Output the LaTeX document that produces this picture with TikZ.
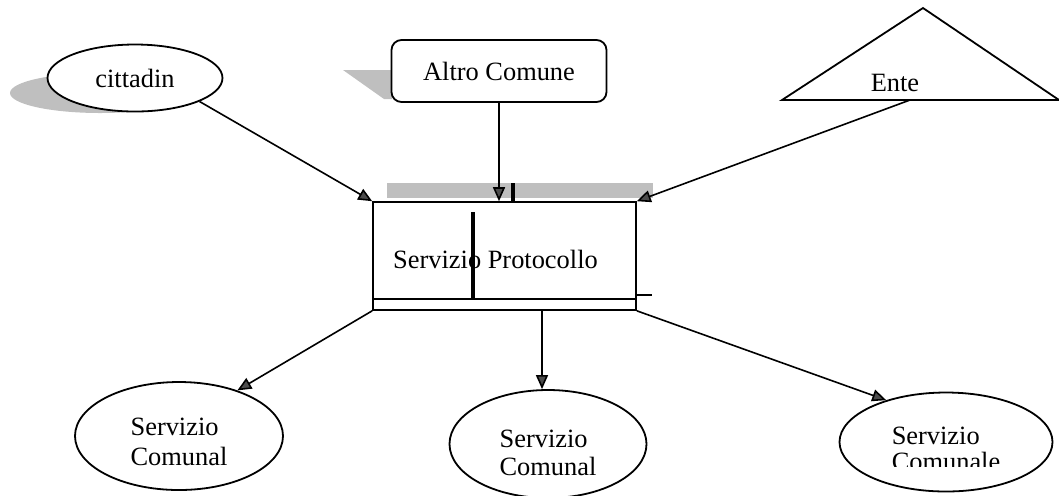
\documentclass[tikz,border=0pt]{standalone}
\usepackage{fontspec}
\setmainfont{Liberation Serif}
\usetikzlibrary{shapes.geometric}
\usetikzlibrary{arrows.meta}

\begin{document}
\begin{tikzpicture}[x=0.5pt,y=-0.5pt,
  font=\fontsize{13.2}{15}\selectfont,
  entity/.style={draw, ellipse, inner sep=0pt, line width=0.9pt},
  link/.style={line width=0.8pt, -{Triangle[length=7pt,width=6pt,fill=black!70]}}]
\useasboundingbox (0,0) rectangle (1059,495);

% shadows
\fill [black!25] (100,93) ellipse (90 and 20);
\fill [black!25] (343,70) -- (392,70) -- (392,99) -- (384,99) -- cycle;
\fill [black!25] (387,183) rectangle (653,198);

\node [entity, fill=white, minimum width=87.5pt, minimum height=33.5pt] (cittadin) at (135,78) {cittadin};
\node [draw, rounded corners=5pt, fill=white, line width=0.9pt, minimum width=107.5pt, minimum height=31pt] (altro) at (499,71) {Altro Comune};

\draw [line width=0.9pt] (782,100) -- (923,8) -- (1059,100) -- cycle;
\node (ente) at (895,83) {Ente};
\coordinate (enteBase) at (910,100);

\node [draw, line width=0.8pt, minimum width=131.5pt, minimum height=54pt] (proto) at (504.5,256) {\rule{0pt}{13pt}\hspace*{-4.5pt}Servizio Protocollo\hspace*{4.5pt}};
\draw [line width=0.8pt] ([yshift=6pt]proto.south west) -- ([yshift=6pt]proto.south east);
\draw [line width=2pt] (473,212) -- (473,298);
\draw [line width=2pt] (513,183) -- (513,202);
\draw [line width=1pt] (636,295) -- (652,295);

\node [entity, minimum width=104pt, minimum height=54pt, align=left] (sc1) at (179,436) {\rule{0pt}{15pt}Servizio\\Comunal};
\node [entity, minimum width=98.5pt, minimum height=54pt, align=left] (sc2) at (548,444) {\rule{0pt}{18pt}Servizio\\[-1pt]Comunal};
\node [entity, minimum width=106.5pt, minimum height=49.5pt, align=left] (sc3) at (946,442) {\rule{0pt}{16pt}Servizio\\[-2pt]Comunale};
\fill [white] (886,467) rectangle (1004,478);

\draw [link] (cittadin.-20) -- (proto.north west);
\draw [link] (altro) -- (altro |- proto.north);
\draw [link] (enteBase) -- (proto.north east);
\draw [link] (proto.south west) -- (sc1.38);
\draw [link] ([xshift=-3pt]sc2.north |- proto.south) -- ([xshift=-3pt]sc2.north);
\draw [link] (proto.south east) -- (sc3.145);
\end{tikzpicture}
\end{document}
